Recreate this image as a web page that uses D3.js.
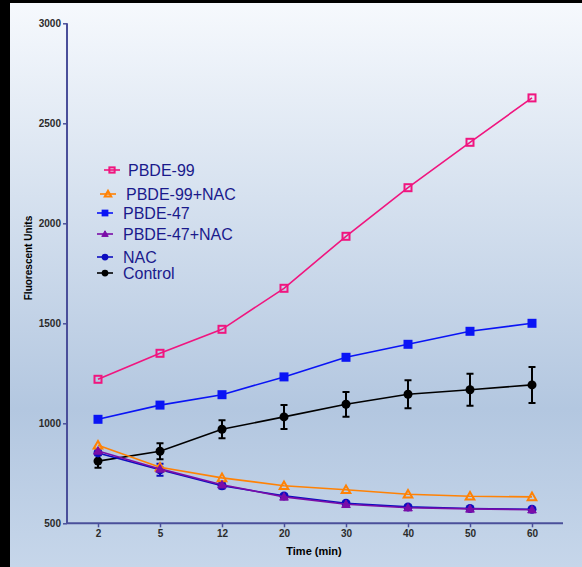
<!DOCTYPE html>
<html>
<head>
<meta charset="utf-8">
<script src="https://cdn.jsdelivr.net/npm/d3@7"></script>
<style>
  html, body { margin: 0; padding: 0; background: #000; }
  svg { display: block; }
</style>
</head>
<body>
<script>
// data
const times = ["2", "5", "12", "20", "30", "40", "50", "60"];
const yTicks = [500, 1000, 1500, 2000, 2500, 3000];

const pbde99     = [1220, 1350, 1470, 1675, 1935, 2178, 2405, 2627];
const pbde99Nac  = [890, 780, 727, 688, 668, 645, 635, 632];
const pbde47     = [1020, 1091, 1143, 1232, 1330, 1395, 1460, 1500];
const pbde47Nac  = [862, 772, 693, 632, 595, 578, 572, 568];
const nac        = [852, 768, 688, 637, 600, 582, 574, 570];
const nacErr     = [12, 30, 14, 10, 8, 8, 8, 8];
const control    = [811, 860, 970, 1032, 1095, 1145, 1168, 1192];
const controlErr = [33, 40, 45, 60, 62, 70, 80, 90];

const W = 582, H = 567;
const plot = {left: 67, right: 563, top: 23.3, bottom: 523.3};

const series = [
  {name: "Control",     values: control,   err: controlErr, color: "#000000", shape: "circle"},
  {name: "PBDE-99",     values: pbde99,    err: null,       color: "#f0157f", shape: "openSquare"},
  {name: "PBDE-47",     values: pbde47,    err: null,       color: "#0a14f5", shape: "square"},
  {name: "NAC",         values: nac,       err: nacErr,     color: "#0d0dbf", shape: "circle"},
  {name: "PBDE-99+NAC", values: pbde99Nac, err: null,       color: "#ff8205", shape: "openTriangle"},
  {name: "PBDE-47+NAC", values: pbde47Nac, err: null,       color: "#7a0da8", shape: "triangle"}
];

// legend layout (order + placement as in the picture)
const legendItems = [
  {name: "PBDE-99",     sx: 112, y: 170, tx: 128},
  {name: "PBDE-99+NAC", sx: 108, y: 194, tx: 126},
  {name: "PBDE-47",     sx: 105, y: 213, tx: 123},
  {name: "PBDE-47+NAC", sx: 105, y: 234, tx: 123},
  {name: "NAC",         sx: 105, y: 257, tx: 123},
  {name: "Control",     sx: 105, y: 273, tx: 123}
];

const svg = d3.select("body").append("svg")
  .attr("width", W).attr("height", H);

// background gradient
const defs = svg.append("defs");
const grad = defs.append("linearGradient")
  .attr("id", "bg").attr("x1", 0).attr("y1", 0).attr("x2", 0).attr("y2", 1);
grad.append("stop").attr("offset", "0%").attr("stop-color", "#f6f9fd");
grad.append("stop").attr("offset", "72%").attr("stop-color", "#b3c7e0");
grad.append("stop").attr("offset", "100%").attr("stop-color", "#c6d6ea");

svg.append("rect").attr("width", W).attr("height", H).attr("fill", "#000");
svg.append("rect").attr("x", 10).attr("y", 3)
  .attr("width", W - 10).attr("height", H - 3).attr("fill", "url(#bg)");

const x = d3.scalePoint().domain(times).range([plot.left, plot.right]).padding(0.5);
const y = d3.scaleLinear().domain([500, 3000]).range([plot.bottom, plot.top]);

const axisColor = "#4a4f9a";

// axes
const yAxis = svg.append("g")
  .attr("transform", `translate(${plot.left},0)`)
  .call(d3.axisLeft(y).tickValues(yTicks).tickSize(4).tickPadding(2).tickFormat(d3.format("d")));
const xAxis = svg.append("g")
  .attr("transform", `translate(0,${plot.bottom})`)
  .call(d3.axisBottom(x).tickSize(4).tickPadding(3));

[xAxis, yAxis].forEach(g => {
  g.select(".domain").attr("stroke", axisColor).attr("stroke-width", 2)
  g.selectAll(".tick line").attr("stroke", axisColor).attr("stroke-width", 1.5);
  g.selectAll(".tick text")
    .attr("fill", "#2b2b2b")
    .attr("font-family", "Liberation Sans, Arial, sans-serif")
    .attr("font-weight", "bold")
    .attr("font-size", 10);
});
xAxis.select(".domain").attr("d", `M${plot.left},0H${plot.right}`);
yAxis.select(".domain").attr("d", `M0,${plot.top}V${plot.bottom}`);

svg.append("text")
  .attr("x", 314).attr("y", 555)
  .attr("text-anchor", "middle")
  .attr("font-family", "Liberation Sans, Arial, sans-serif")
  .attr("font-weight", "bold").attr("font-size", 11)
  .text("Time (min)");

svg.append("text")
  .attr("transform", "translate(32,258) rotate(-90)")
  .attr("text-anchor", "middle")
  .attr("font-family", "Liberation Sans, Arial, sans-serif")
  .attr("font-weight", "bold").attr("font-size", 10)
  .text("Fluorescent Units");

// marker helper
function drawMarker(g, shape, color, cx, cy, scale) {
  const k = scale || 1;
  if (shape === "circle") {
    g.append("circle").attr("cx", cx).attr("cy", cy).attr("r", 4.5 * k).attr("fill", color);
  } else if (shape === "square") {
    g.append("rect").attr("x", cx - 4.5 * k).attr("y", cy - 4.5 * k)
      .attr("width", 9 * k).attr("height", 9 * k).attr("fill", color);
  } else if (shape === "openSquare") {
    g.append("rect").attr("x", cx - 3.5 * k).attr("y", cy - 3.5 * k)
      .attr("width", 7 * k).attr("height", 7 * k)
      .attr("fill", "none").attr("stroke", color).attr("stroke-width", 2);
  } else if (shape === "triangle" || shape === "openTriangle") {
    const s = 4.3 * k;
    const pts = [[cx, cy - s], [cx - s, cy + s * 0.75], [cx + s, cy + s * 0.75]];
    const p = g.append("polygon").attr("points", pts.map(d => d.join(",")).join(" "));
    if (shape === "triangle") p.attr("fill", color).attr("stroke", color).attr("stroke-width", 1);
    else p.attr("fill", "none").attr("stroke", color).attr("stroke-width", 2);
  }
}

const line = d3.line().x((d, i) => x(times[i])).y(d => y(d));

series.forEach(s => {
  const g = svg.append("g");
  g.append("path").datum(s.values)
    .attr("d", line)
    .attr("fill", "none").attr("stroke", s.color).attr("stroke-width", 1.6);
  if (s.err) {
    s.values.forEach((v, i) => {
      const cx = x(times[i]);
      const y1 = y(v + s.err[i]), y2 = y(v - s.err[i]);
      g.append("path")
        .attr("d", `M${cx},${y1}V${y2}M${cx - 3.5},${y1}H${cx + 3.5}M${cx - 3.5},${y2}H${cx + 3.5}`)
        .attr("stroke", s.color).attr("stroke-width", 2).attr("fill", "none");
    });
  }
  s.values.forEach((v, i) => drawMarker(g, s.shape, s.color, x(times[i]), y(v)));
});

// legend
const legend = svg.append("g");
legendItems.forEach(item => {
  const s = series.find(d => d.name === item.name);
  legend.append("line")
    .attr("x1", item.sx - 8).attr("x2", item.sx + 8)
    .attr("y1", item.y).attr("y2", item.y)
    .attr("stroke", s.color).attr("stroke-width", 1.6);
  drawMarker(legend, s.shape, s.color, item.sx, item.y, 0.75);
  legend.append("text")
    .attr("x", item.tx).attr("y", item.y)
    .attr("dy", "0.35em")
    .attr("fill", "#1a1a8c")
    .attr("font-family", "Liberation Sans, Arial, sans-serif")
    .attr("font-size", 16)
    .text(item.name);
});
</script>
</body>
</html>
